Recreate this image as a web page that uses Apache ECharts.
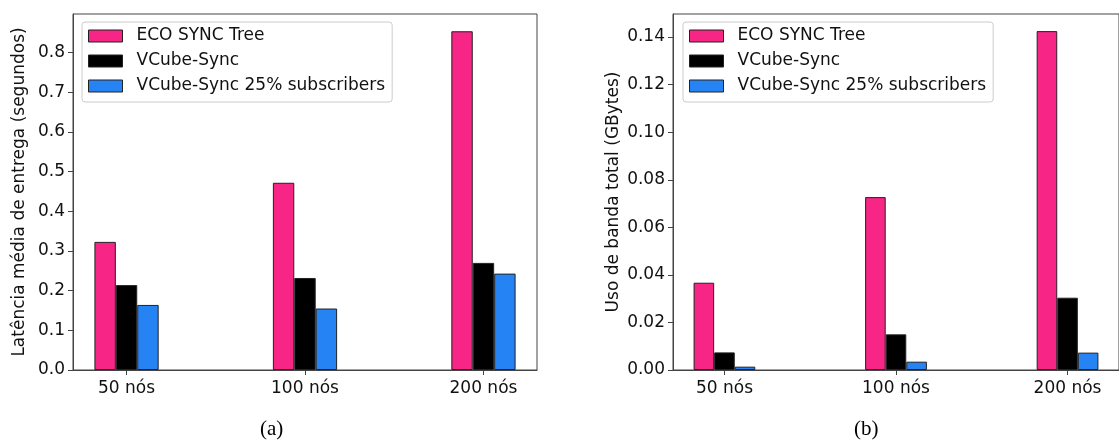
<!DOCTYPE html>
<html>
<head>
<meta charset="utf-8">
<script src="https://cdn.jsdelivr.net/npm/echarts@6/dist/echarts.min.js"></script>
<style>
html,body{margin:0;padding:0;background:#fff;}
#chart{width:1119px;height:443px;}
</style>
</head>
<body>
<div id="chart"></div>
<script>
// ---- data ----
const categories = ['50 nós', '100 nós', '200 nós'];
const seriesNames = ['ECO SYNC Tree', 'VCube-Sync', 'VCube-Sync 25% subscribers'];
// (a) latency (seconds)
const latencyEco = [0.323, 0.472, 0.854];
const latencyVcube = [0.214, 0.232, 0.270];
const latencyVcube25 = [0.164, 0.155, 0.243];
// (b) bandwidth (GBytes)
const bandEco = [0.0367, 0.0727, 0.1425];
const bandVcube = [0.0074, 0.0150, 0.0304];
const bandVcube25 = [0.0014, 0.0035, 0.0073];
// tick labels
const yTicksA = [0, 0.1, 0.2, 0.3, 0.4, 0.5, 0.6, 0.7, 0.8];
const yTicksB = [0, 0.02, 0.04, 0.06, 0.08, 0.10, 0.12, 0.14];
const xTicks = [0, 1, 2];
const yNameA = 'Latência média de entrega (segundos)';
const yNameB = 'Uso de banda total (GBytes)';
const captions = ['(a)', '(b)'];

const colors = ['#f72585', '#000000', '#2683f4'];
const FONT = 'DejaVu Sans';
const axisColor = '#444';

function xAxisCfg(gridIndex) {
  return {
    type: 'value', gridIndex, min: -0.3, max: 2.3,
    splitLine: {show: false},
    axisLine: {show: true, onZero: false, lineStyle: {color: axisColor, width: 1}},
    axisTick: {show: true, customValues: xTicks, length: 5, lineStyle: {color: axisColor}},
    axisLabel: {customValues: xTicks, margin: 9, fontSize: 17, fontFamily: FONT, color: '#111', lineHeight: 20,
      formatter: v => categories[Math.round(v)]}
  };
}
function yAxisCfg(gridIndex, max, ticks, dec, name, gap) {
  return {
    type: 'value', gridIndex, min: 0, max: max,
    name: name, nameLocation: 'middle', nameGap: gap,
    nameTextStyle: {fontSize: 17, fontFamily: FONT, color: '#111'},
    splitLine: {show: false},
    axisLine: {show: true, onZero: false, lineStyle: {color: axisColor, width: 1}},
    axisTick: {show: true, customValues: ticks, length: 5, lineStyle: {color: axisColor}},
    axisLabel: {customValues: ticks, margin: 8, fontSize: 17, fontFamily: FONT, color: '#111',
      formatter: v => v.toFixed(dec)}
  };
}
function legendCfg(left) {
  return {
    left: left, top: 22, orient: 'vertical',
    icon: 'rect',
    itemWidth: 34, itemHeight: 12, itemGap: 5,
    padding: [4, 7, 6, 6],
    backgroundColor: '#fff', borderColor: '#cccccc', borderWidth: 1, borderRadius: 3,
    selectedMode: false,
    textStyle: {fontSize: 17, fontFamily: FONT, color: '#111', lineHeight: 20, padding: [0, 0, 0, 9]},
    itemStyle: {borderColor: '#222', borderWidth: 1},
    data: seriesNames
  };
}
function barSeries(name, idx, values, axisIndex) {
  return {
    type: 'bar', name: name, xAxisIndex: axisIndex, yAxisIndex: axisIndex,
    data: values.map((v, i) => [i, v]),
    barWidth: '12%', barGap: '0%',
    itemStyle: {color: colors[idx], borderColor: '#222', borderWidth: 1}
  };
}

const option = {
  animation: false,
  backgroundColor: '#ffffff',
  grid: [
    {left: 73, top: 14, right: 582, bottom: 73, show: true, borderColor: axisColor, borderWidth: 1, backgroundColor: 'transparent'},
    {left: 673, top: 14, right: -8, bottom: 73, show: true, borderColor: axisColor, borderWidth: 1, backgroundColor: 'transparent'}
  ],
  legend: [legendCfg(82), legendCfg(683)],
  xAxis: [xAxisCfg(0), xAxisCfg(1)],
  yAxis: [
    yAxisCfg(0, 0.8975, yTicksA, 1, yNameA, 45),
    yAxisCfg(1, 0.1497, yTicksB, 2, yNameB, 51)
  ],
  series: [
    barSeries(seriesNames[0], 0, latencyEco, 0),
    barSeries(seriesNames[1], 1, latencyVcube, 0),
    barSeries(seriesNames[2], 2, latencyVcube25, 0),
    barSeries(seriesNames[0], 0, bandEco, 1),
    barSeries(seriesNames[1], 1, bandVcube, 1),
    barSeries(seriesNames[2], 2, bandVcube25, 1)
  ],
  graphic: [
    {type: 'text', left: 260, top: 419, style: {text: captions[0], fontSize: 21, fontFamily: 'Liberation Serif', fill: '#000'}},
    {type: 'text', left: 854, top: 419, style: {text: captions[1], fontSize: 21, fontFamily: 'Liberation Serif', fill: '#000'}}
  ]
};

const chart = echarts.init(document.getElementById('chart'), null, {renderer: 'canvas'});
chart.setOption(option);
</script>
</body>
</html>
